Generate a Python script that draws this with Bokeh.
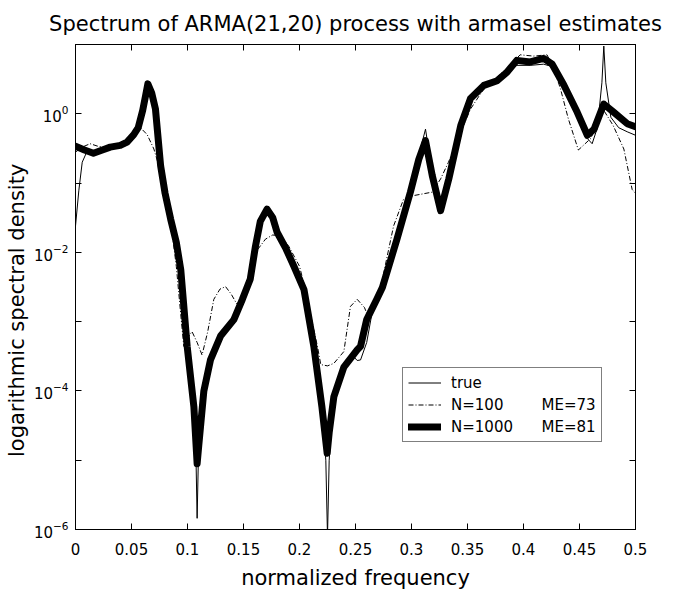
from bokeh.plotting import figure
from bokeh.models import (Range1d, FixedTicker, LinearAxis, LogAxis, Legend, LegendItem,
                          CustomJSTickFormatter, ColumnDataSource)
from bokeh.embed import file_html
from bokeh.resources import INLINE

# ---------------- data ----------------
freq_true = [0.000, 0.003, 0.006, 0.010, 0.016, 0.024, 0.031, 0.040, 0.046, 0.052, 0.056, 0.060,
             0.0646, 0.068, 0.0714, 0.076, 0.080, 0.085, 0.090, 0.094, 0.0997, 0.1057, 0.1075,
             0.1086, 0.1098, 0.112, 0.1146, 0.1205, 0.1295, 0.1414, 0.149, 0.156, 0.1607, 0.165,
             0.171, 0.176, 0.180, 0.188, 0.195, 0.204, 0.2128, 0.220, 0.2235, 0.225, 0.2265, 0.229,
             0.2307, 0.2396, 0.247, 0.2515, 0.2545, 0.260, 0.265, 0.269, 0.274, 0.287, 0.299,
             0.3065, 0.3125, 0.3185, 0.326, 0.3333, 0.344, 0.3527, 0.3646, 0.3765, 0.3854, 0.394,
             0.406, 0.418, 0.4256, 0.436, 0.448, 0.457, 0.4613, 0.466, 0.470, 0.4717, 0.4735,
             0.478, 0.485, 0.4926, 0.500]
psd_true = [0.024, 0.079, 0.20, 0.28, 0.27, 0.30, 0.33, 0.35, 0.39, 0.50, 0.66, 1.12,
            2.2, 1.78, 1.12, 0.178, 0.071, 0.030, 0.012, 5.6e-3, 4.4e-4, 5.0e-5, 1.26e-5,
            1.45e-6, 1.26e-5, 5.0e-5, 1.1e-4, 2.8e-4, 6.2e-4, 1.07e-3, 2.1e-3, 4.1e-3, 0.0123, 0.028,
            0.045, 0.032, 0.0195, 0.0112, 6.3e-3, 2.9e-3, 4.4e-4, 5.0e-5, 1.0e-5, 7.9e-7, 1.0e-5, 4.0e-5,
            7.9e-5, 2.4e-4, 3.3e-4, 2.75e-4, 2.8e-4, 5.0e-4, 1.4e-3, 2.1e-3, 3.1e-3, 0.0155, 0.074,
            0.25, 0.60, 0.14, 0.038, 0.115, 0.68, 1.66, 2.5, 2.9, 3.8, 5.0,
            5.0, 5.2, 4.8, 2.2, 0.89, 0.44, 0.37, 0.63, 2.8, 9.5, 2.8,
            0.89, 0.63, 0.55, 0.49]

freq_n100 = [0.000, 0.006, 0.013, 0.020, 0.031, 0.040, 0.046, 0.052, 0.058, 0.064, 0.070, 0.076,
             0.080, 0.085, 0.090, 0.094, 0.0967, 0.0995, 0.104, 0.1086, 0.113, 0.118, 0.1235,
             0.129, 0.134, 0.139, 0.144, 0.149, 0.156, 0.1607, 0.1696, 0.176, 0.183, 0.190, 0.200,
             0.204, 0.207, 0.216, 0.219, 0.225, 0.2307, 0.2396, 0.2455, 0.2515, 0.258, 0.262,
             0.268, 0.274, 0.284, 0.293, 0.302, 0.3185, 0.326, 0.333, 0.344, 0.3527, 0.3646,
             0.3765, 0.388, 0.397, 0.409, 0.421, 0.427, 0.433, 0.440, 0.449, 0.460, 0.4717,
             0.480, 0.4896, 0.497, 0.500]
psd_n100 = [0.28, 0.33, 0.37, 0.34, 0.32, 0.34, 0.35, 0.45, 0.63, 0.50, 0.31, 0.145,
            0.071, 0.028, 6.3e-3, 1.26e-3, 4.4e-4, 5.6e-4, 7.2e-4, 5.0e-4, 3.3e-4, 7.1e-4, 2.1e-3,
            2.95e-3, 3.2e-3, 2.5e-3, 1.8e-3, 2.2e-3, 4.5e-3, 0.010, 0.0155, 0.0178, 0.0174, 0.0126, 6.3e-3,
            3.5e-3, 2.1e-3, 4.4e-4, 2.4e-4, 2.3e-4, 2.5e-4, 3.7e-4, 1.66e-3, 2.1e-3, 1.6e-3, 1.1e-3,
            2.0e-3, 4.1e-3, 0.024, 0.059, 0.066, 0.074, 0.115, 0.20, 0.55, 1.17, 2.3,
            3.4, 5.0, 7.1, 6.8, 7.1, 4.5, 2.3, 0.85, 0.30, 0.44, 1.12,
            0.68, 0.31, 0.081, 0.071]

freq_n1000 = [0.000, 0.008, 0.016, 0.024, 0.031, 0.040, 0.046, 0.052, 0.056, 0.060, 0.0625, 0.0646,
              0.068, 0.0714, 0.076, 0.080, 0.085, 0.090, 0.094, 0.0997, 0.1057, 0.1086, 0.110,
              0.1146, 0.1205, 0.1295, 0.1414, 0.149, 0.156, 0.1607, 0.165, 0.171, 0.176, 0.180,
              0.188, 0.195, 0.204, 0.2128, 0.220, 0.2247, 0.2265, 0.2307, 0.2396, 0.2515, 0.2545,
              0.260, 0.269, 0.274, 0.287, 0.299, 0.3065, 0.3125, 0.3185, 0.326, 0.3333, 0.344,
              0.3527, 0.3646, 0.3765, 0.3854, 0.394, 0.406, 0.418, 0.4256, 0.436, 0.448, 0.457,
              0.463, 0.4717, 0.4806, 0.4926, 0.500]
psd_n1000 = [0.34, 0.30, 0.27, 0.30, 0.33, 0.35, 0.39, 0.50, 0.63, 1.12, 1.8, 2.7,
             2.0, 1.17, 0.178, 0.071, 0.030, 0.014, 5.6e-3, 4.4e-4, 5.9e-5, 8.9e-6, 1.6e-5,
             1.0e-4, 2.8e-4, 6.2e-4, 1.07e-3, 2.1e-3, 4.1e-3, 0.0123, 0.028, 0.042, 0.032, 0.0195,
             0.0112, 6.3e-3, 2.9e-3, 4.4e-4, 5.9e-5, 1.26e-5, 2.5e-5, 8.3e-5, 2.2e-4, 3.9e-4, 4.4e-4,
             1.07e-3, 2.1e-3, 3.1e-3, 0.0155, 0.074, 0.22, 0.41, 0.129, 0.040, 0.115, 0.68,
             1.66, 2.57, 3.0, 4.0, 5.9, 5.6, 6.3, 5.2, 2.6, 1.05, 0.49,
             0.60, 1.38, 1.05, 0.72, 0.65]

x_ticks = [0, 0.05, 0.1, 0.15, 0.2, 0.25, 0.3, 0.35, 0.4, 0.45, 0.5]
y_labelled_ticks = [1e-6, 1e-4, 1e-2, 1e0]
y_other_ticks = [1e-5, 1e-3, 1e-1, 1e1]

title_text = "Spectrum of ARMA(21,20) process with armasel estimates"
x_label = "normalized frequency"
y_label = "logarithmic spectral density"
NB = "\u00a0"
legend_labels = ["true",
                 "N=100" + NB * 8 + "ME=73",
                 "N=1000" + NB * 6 + "ME=81"]

FONT = "DejaVu Sans"

# ---------------- figure ----------------
p = figure(output_backend="svg", toolbar_location=None,
           frame_width=560, frame_height=485,
           x_range=Range1d(0, 0.5), y_range=Range1d(1e-6, 10),
           y_axis_type="log",
           min_border_left=75, min_border_top=44, min_border_right=36, min_border_bottom=63)
p.background_fill_color = "white"
p.border_fill_color = "white"
p.outline_line_color = "black"
p.outline_line_width = 1
p.xgrid.visible = False
p.ygrid.visible = False

p.title.text = title_text
p.title.align = "center"
p.title.text_font = FONT
p.title.text_font_size = "21px"
p.title.text_font_style = "normal"
p.title.text_color = "black"
p.title.standoff = 17

xfmt = CustomJSTickFormatter(code="""
    let s = tick.toFixed(2);
    s = s.replace(/0+$/, '').replace(/\\.$/, '');
    return s;
""")

def style_axis(ax, show_labels):
    ax.axis_line_color = "black"
    ax.major_tick_line_color = "black"
    ax.minor_tick_line_color = "black"
    ax.major_tick_in = 6
    ax.major_tick_out = 0
    ax.minor_tick_in = 6
    ax.minor_tick_out = 0
    ax.major_label_text_font = FONT
    ax.major_label_text_font_size = "15px"
    ax.major_label_text_color = "black"
    ax.axis_label_text_font = FONT
    ax.axis_label_text_font_size = "21px"
    ax.axis_label_text_font_style = "normal"
    ax.axis_label_text_color = "black"
    if not show_labels:
        ax.major_label_text_font_size = "1px"
        ax.major_label_text_color = None
        ax.major_label_standoff = 0
        ax.axis_label_standoff = 0

xticker = FixedTicker(ticks=x_ticks)
yticker = FixedTicker(ticks=y_labelled_ticks, minor_ticks=y_other_ticks)

xa = p.xaxis[0]
xa.ticker = xticker
xa.formatter = xfmt
xa.axis_label = x_label
style_axis(xa, True)
xa.axis_label_standoff = 8
xa.major_label_standoff = 13

ya = p.yaxis[0]
ya.ticker = yticker
# trailing no-break spaces shift the visible label slightly downward, as in the reference
ya.axis_label = y_label + NB * 7
style_axis(ya, True)
ya.axis_label_standoff = 2
ya.major_label_standoff = 7

top = LinearAxis(ticker=FixedTicker(ticks=x_ticks))
style_axis(top, False)
p.add_layout(top, "above")
right = LogAxis(ticker=FixedTicker(ticks=y_labelled_ticks, minor_ticks=y_other_ticks))
style_axis(right, False)
p.add_layout(right, "right")

src_true = ColumnDataSource(dict(f=freq_true, s=psd_true))
src_100 = ColumnDataSource(dict(f=freq_n100, s=psd_n100))
src_1000 = ColumnDataSource(dict(f=freq_n1000, s=psd_n1000))

r_1000 = p.line("f", "s", source=src_1000, line_color="black", line_width=7,
                line_join="round", line_cap="round")
r_100 = p.line("f", "s", source=src_100, line_color="black", line_width=1,
               line_dash="5 2 1 2")
r_true = p.line("f", "s", source=src_true, line_color="black", line_width=1)

legend = Legend(items=[LegendItem(label=legend_labels[0], renderers=[r_true]),
                       LegendItem(label=legend_labels[1], renderers=[r_100]),
                       LegendItem(label=legend_labels[2], renderers=[r_1000])],
                location=(327, 87))
legend.border_line_color = "black"
legend.border_line_width = 1
legend.background_fill_color = "white"
legend.background_fill_alpha = 1
legend.label_text_font = FONT
legend.label_text_font_size = "15px"
legend.label_text_color = "black"
legend.glyph_width = 33
legend.glyph_height = 19
legend.label_height = 19
legend.label_standoff = 10
legend.spacing = 3
legend.padding = 5
legend.margin = 0
p.add_layout(legend, "center")

html = file_html(p, INLINE)
open("out.html", "w").write(html)
